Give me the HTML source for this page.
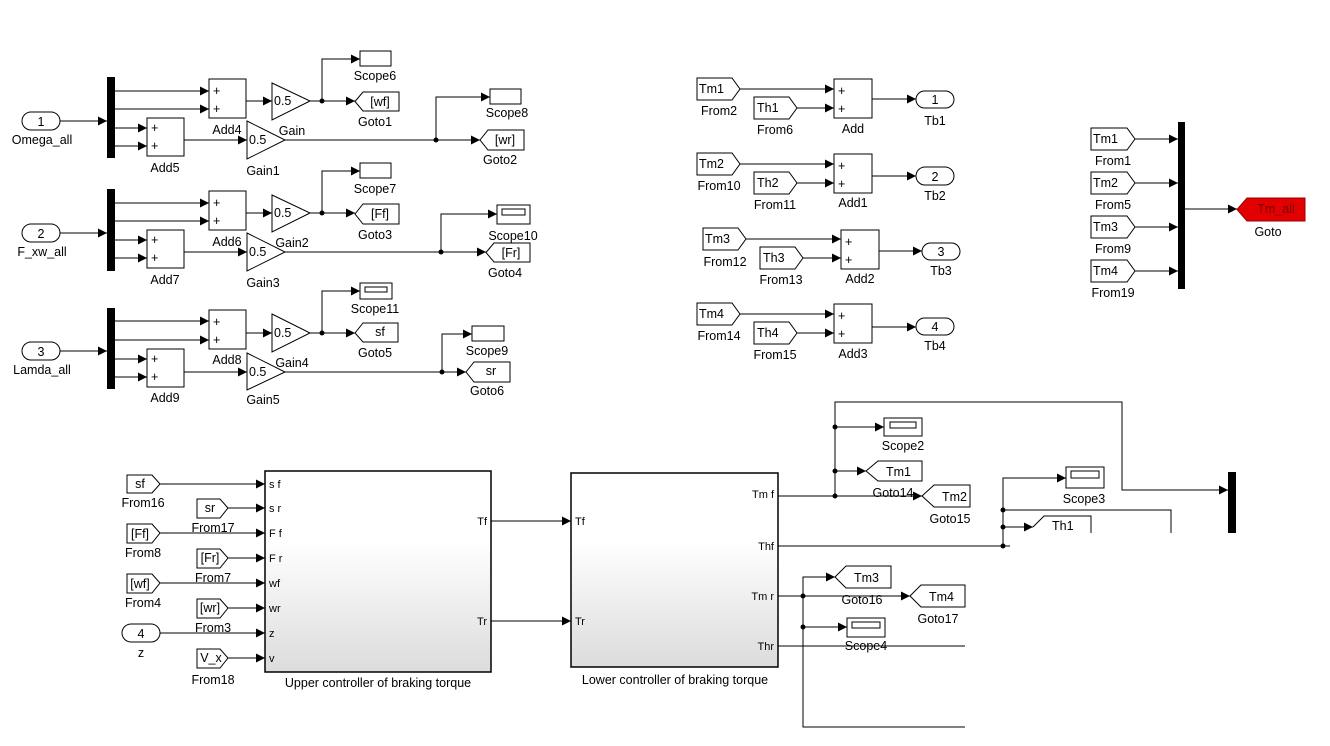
<!DOCTYPE html>
<html><head><meta charset="utf-8"><style>
html,body{margin:0;padding:0;background:#fff}
svg{display:block}
text{font-family:"Liberation Sans",Arial,sans-serif;font-size:12.5px;fill:#000}
.m{text-anchor:middle}
.r{text-anchor:end}
.b{fill:#fff;stroke:#000;stroke-width:1}
.l{fill:none;stroke:#000;stroke-width:1}
.s{font-size:11px}
</style></head><body>
<svg width="1330" height="746" viewBox="0 0 1330 746" xmlns="http://www.w3.org/2000/svg">
<defs>
<marker id="a" markerWidth="9" markerHeight="9" refX="9" refY="4.5" orient="auto" markerUnits="userSpaceOnUse"><path d="M0,0L9,4.5L0,9z" fill="#000"/></marker>
<linearGradient id="g" x1="0" y1="0" x2="0" y2="1"><stop offset="0" stop-color="#fff"/><stop offset="0.35" stop-color="#fff"/><stop offset="1" stop-color="#dcdcdc"/></linearGradient>
</defs>

<!-- ROW 1 -->
<rect class="b" x="22" y="112" width="38" height="18" rx="9"/><text class="m" x="41" y="126">1</text>
<text class="m" x="42" y="144">Omega_all</text>
<line class="l" x1="60" y1="121" x2="107" y2="121" marker-end="url(#a)"/>
<rect x="107" y="77" width="8" height="81" fill="#000"/>
<line class="l" x1="115" y1="91" x2="209" y2="91" marker-end="url(#a)"/>
<line class="l" x1="115" y1="109" x2="209" y2="109" marker-end="url(#a)"/>
<line class="l" x1="115" y1="128" x2="147" y2="128" marker-end="url(#a)"/>
<line class="l" x1="115" y1="146" x2="147" y2="146" marker-end="url(#a)"/>
<rect class="b" x="209" y="79" width="37" height="39"/><text x="213" y="95">+</text><text x="213" y="113">+</text>
<text class="m" x="227" y="134">Add4</text>
<rect class="b" x="147" y="118" width="37" height="38"/><text x="151" y="132">+</text><text x="151" y="150">+</text>
<text class="m" x="165" y="172">Add5</text>
<line class="l" x1="246" y1="101" x2="272" y2="101" marker-end="url(#a)"/>
<polygon class="b" points="272,83 310,101 272,120"/><text x="274" y="105">0.5</text>
<text class="m" x="292" y="135">Gain</text>
<line class="l" x1="310" y1="101" x2="355" y2="101" marker-end="url(#a)"/>
<circle cx="322" cy="101" r="2.5"/>
<polyline class="l" points="322,101 322,59 360,59" marker-end="url(#a)"/>
<rect class="b" x="360" y="51" width="31" height="15"/><text class="m" x="375" y="80">Scope6</text>
<polygon class="b" points="355,101.5 363,92 399,92 399,111 363,111"/><text class="m" x="380" y="106">[wf]</text>
<text class="m" x="375" y="126">Goto1</text>
<line class="l" x1="184" y1="140" x2="247" y2="140" marker-end="url(#a)"/>
<polygon class="b" points="247,121 285,140 247,159"/><text x="249" y="144">0.5</text>
<text class="m" x="263" y="175">Gain1</text>
<line class="l" x1="285" y1="140" x2="480" y2="140" marker-end="url(#a)"/>
<circle cx="436" cy="140" r="2.5"/>
<polyline class="l" points="436,140 436,97 490,97" marker-end="url(#a)"/>
<rect class="b" x="490" y="89" width="31" height="15"/><text class="m" x="507" y="117">Scope8</text>
<polygon class="b" points="480,140 488,130 524,130 524,150 488,150"/><text class="m" x="505" y="144">[wr]</text>
<text class="m" x="500" y="164">Goto2</text>

<!-- ROW 2 -->
<rect class="b" x="22" y="224" width="38" height="18" rx="9"/><text class="m" x="41" y="238">2</text>
<text class="m" x="42" y="256">F_xw_all</text>
<line class="l" x1="60" y1="233" x2="107" y2="233" marker-end="url(#a)"/>
<rect x="107" y="189" width="8" height="82" fill="#000"/>
<line class="l" x1="115" y1="203" x2="209" y2="203" marker-end="url(#a)"/>
<line class="l" x1="115" y1="221" x2="209" y2="221" marker-end="url(#a)"/>
<line class="l" x1="115" y1="240" x2="147" y2="240" marker-end="url(#a)"/>
<line class="l" x1="115" y1="258" x2="147" y2="258" marker-end="url(#a)"/>
<rect class="b" x="209" y="191" width="37" height="39"/><text x="213" y="207">+</text><text x="213" y="225">+</text>
<text class="m" x="227" y="246">Add6</text>
<rect class="b" x="147" y="230" width="37" height="38"/><text x="151" y="244">+</text><text x="151" y="262">+</text>
<text class="m" x="165" y="284">Add7</text>
<line class="l" x1="246" y1="213" x2="272" y2="213" marker-end="url(#a)"/>
<polygon class="b" points="272,195 310,213 272,232"/><text x="274" y="217">0.5</text>
<text class="m" x="292" y="247">Gain2</text>
<line class="l" x1="310" y1="213" x2="355" y2="213" marker-end="url(#a)"/>
<circle cx="322" cy="213" r="2.5"/>
<polyline class="l" points="322,213 322,171 360,171" marker-end="url(#a)"/>
<rect class="b" x="360" y="163" width="31" height="15"/><text class="m" x="375" y="193">Scope7</text>
<polygon class="b" points="355,214 363,204 399,204 399,224 363,224"/><text class="m" x="380" y="218">[Ff]</text>
<text class="m" x="375" y="239">Goto3</text>
<line class="l" x1="184" y1="252" x2="247" y2="252" marker-end="url(#a)"/>
<polygon class="b" points="247,233 285,252 247,271"/><text x="249" y="256">0.5</text>
<text class="m" x="263" y="287">Gain3</text>
<line class="l" x1="285" y1="252" x2="486" y2="252" marker-end="url(#a)"/>
<circle cx="441" cy="252" r="2.5"/>
<polyline class="l" points="441,252 441,214 497,214" marker-end="url(#a)"/>
<rect class="b" x="497" y="205" width="33" height="19"/><rect class="b" x="502" y="209" width="23" height="6"/>
<text class="m" x="513" y="240">Scope10</text>
<polygon class="b" points="486,252.5 494,243 530,243 530,262 494,262"/><text class="m" x="511" y="257">[Fr]</text>
<text class="m" x="505" y="277">Goto4</text>

<!-- ROW 3 -->
<rect class="b" x="22" y="342" width="38" height="18" rx="9"/><text class="m" x="41" y="356">3</text>
<text class="m" x="42" y="374">Lamda_all</text>
<line class="l" x1="60" y1="351" x2="107" y2="351" marker-end="url(#a)"/>
<rect x="107" y="308" width="8" height="81" fill="#000"/>
<line class="l" x1="115" y1="321" x2="209" y2="321" marker-end="url(#a)"/>
<line class="l" x1="115" y1="340" x2="209" y2="340" marker-end="url(#a)"/>
<line class="l" x1="115" y1="359" x2="147" y2="359" marker-end="url(#a)"/>
<line class="l" x1="115" y1="377" x2="147" y2="377" marker-end="url(#a)"/>
<rect class="b" x="209" y="310" width="37" height="39"/><text x="213" y="326">+</text><text x="213" y="344">+</text>
<text class="m" x="227" y="364">Add8</text>
<rect class="b" x="147" y="349" width="37" height="38"/><text x="151" y="363">+</text><text x="151" y="381">+</text>
<text class="m" x="165" y="402">Add9</text>
<line class="l" x1="246" y1="333" x2="272" y2="333" marker-end="url(#a)"/>
<polygon class="b" points="272,314 310,333 272,352"/><text x="274" y="337">0.5</text>
<text class="m" x="292" y="367">Gain4</text>
<line class="l" x1="310" y1="333" x2="355" y2="333" marker-end="url(#a)"/>
<circle cx="322" cy="333" r="2.5"/>
<polyline class="l" points="322,333 322,291 360,291" marker-end="url(#a)"/>
<rect class="b" x="360" y="283" width="32" height="16"/><rect class="b" x="365" y="287" width="22" height="5"/>
<text class="m" x="375" y="313">Scope11</text>
<polygon class="b" points="355,333 363,323 398,323 398,342 363,342"/><text class="m" x="380" y="336">sf</text>
<text class="m" x="375" y="357">Goto5</text>
<line class="l" x1="184" y1="372" x2="247" y2="372" marker-end="url(#a)"/>
<polygon class="b" points="247,353 285,372 247,390"/><text x="249" y="376">0.5</text>
<text class="m" x="263" y="404">Gain5</text>
<line class="l" x1="285" y1="372" x2="466" y2="372" marker-end="url(#a)"/>
<circle cx="442" cy="372" r="2.5"/>
<polyline class="l" points="442,372 442,334 472,334" marker-end="url(#a)"/>
<rect class="b" x="472" y="326" width="32" height="15"/><text class="m" x="487" y="355">Scope9</text>
<polygon class="b" points="466,372 474,362 510,362 510,382 474,382"/><text class="m" x="491" y="375">sr</text>
<text class="m" x="487" y="395">Goto6</text>

<!-- MIDDLE ADDS -->
<polygon class="b" points="697,78 732,78 740,89 732,100 697,100"/><text x="699" y="93">Tm1</text><text class="m" x="719" y="115">From2</text>
<polygon class="b" points="754,97 789,97 797,108 789,119 754,119"/><text x="757" y="112">Th1</text><text class="m" x="775" y="134">From6</text>
<line class="l" x1="740" y1="89" x2="834" y2="89" marker-end="url(#a)"/>
<line class="l" x1="797" y1="108" x2="834" y2="108" marker-end="url(#a)"/>
<rect class="b" x="834" y="79" width="38" height="39"/><text x="838" y="95">+</text><text x="838" y="113">+</text><text class="m" x="853" y="133">Add</text>
<line class="l" x1="872" y1="99" x2="916" y2="99" marker-end="url(#a)"/>
<rect class="b" x="916" y="91" width="38" height="17" rx="8.5"/><text class="m" x="935" y="104">1</text><text class="m" x="935" y="125">Tb1</text>

<polygon class="b" points="697,153 732,153 740,164 732,175 697,175"/><text x="699" y="168">Tm2</text><text class="m" x="719" y="190">From10</text>
<polygon class="b" points="754,172 789,172 797,183 789,194 754,194"/><text x="757" y="187">Th2</text><text class="m" x="775" y="209">From11</text>
<line class="l" x1="740" y1="164" x2="834" y2="164" marker-end="url(#a)"/>
<line class="l" x1="797" y1="183" x2="834" y2="183" marker-end="url(#a)"/>
<rect class="b" x="834" y="154" width="38" height="39"/><text x="838" y="170">+</text><text x="838" y="188">+</text><text class="m" x="853" y="207">Add1</text>
<line class="l" x1="872" y1="176" x2="916" y2="176" marker-end="url(#a)"/>
<rect class="b" x="916" y="167" width="38" height="18" rx="9"/><text class="m" x="935" y="181">2</text><text class="m" x="935" y="200">Tb2</text>

<polygon class="b" points="703,228 738,228 746,239 738,250 703,250"/><text x="705" y="243">Tm3</text><text class="m" x="725" y="266">From12</text>
<polygon class="b" points="760,247 795,247 803,258 795,269 760,269"/><text x="763" y="262">Th3</text><text class="m" x="781" y="284">From13</text>
<line class="l" x1="746" y1="239" x2="841" y2="239" marker-end="url(#a)"/>
<line class="l" x1="803" y1="258" x2="841" y2="258" marker-end="url(#a)"/>
<rect class="b" x="841" y="230" width="38" height="39"/><text x="845" y="246">+</text><text x="845" y="264">+</text><text class="m" x="860" y="283">Add2</text>
<line class="l" x1="879" y1="251" x2="922" y2="251" marker-end="url(#a)"/>
<rect class="b" x="922" y="243" width="38" height="17" rx="8.5"/><text class="m" x="941" y="256">3</text><text class="m" x="941" y="275">Tb3</text>

<polygon class="b" points="697,303 732,303 740,314 732,325 697,325"/><text x="699" y="318">Tm4</text><text class="m" x="719" y="340">From14</text>
<polygon class="b" points="754,322 789,322 797,333 789,344 754,344"/><text x="757" y="337">Th4</text><text class="m" x="775" y="359">From15</text>
<line class="l" x1="740" y1="314" x2="834" y2="314" marker-end="url(#a)"/>
<line class="l" x1="797" y1="333" x2="834" y2="333" marker-end="url(#a)"/>
<rect class="b" x="834" y="304" width="38" height="39"/><text x="838" y="320">+</text><text x="838" y="338">+</text><text class="m" x="853" y="358">Add3</text>
<line class="l" x1="872" y1="327" x2="916" y2="327" marker-end="url(#a)"/>
<rect class="b" x="916" y="318" width="38" height="17" rx="8.5"/><text class="m" x="935" y="331">4</text><text class="m" x="935" y="350">Tb4</text>

<!-- RIGHT MUX -->
<polygon class="b" points="1091,128 1127,128 1135,139 1127,150 1091,150"/><text x="1093" y="143">Tm1</text><text class="m" x="1113" y="165">From1</text>
<polygon class="b" points="1091,172 1127,172 1135,183 1127,194 1091,194"/><text x="1093" y="187">Tm2</text><text class="m" x="1113" y="209">From5</text>
<polygon class="b" points="1091,216 1127,216 1135,227 1127,238 1091,238"/><text x="1093" y="231">Tm3</text><text class="m" x="1113" y="253">From9</text>
<polygon class="b" points="1091,260 1127,260 1135,271 1127,282 1091,282"/><text x="1093" y="275">Tm4</text><text class="m" x="1113" y="297">From19</text>
<line class="l" x1="1135" y1="139" x2="1178" y2="139" marker-end="url(#a)"/>
<line class="l" x1="1135" y1="183" x2="1178" y2="183" marker-end="url(#a)"/>
<line class="l" x1="1135" y1="227" x2="1178" y2="227" marker-end="url(#a)"/>
<line class="l" x1="1135" y1="271" x2="1178" y2="271" marker-end="url(#a)"/>
<rect x="1178" y="122" width="7" height="167" fill="#000"/>
<line class="l" x1="1185" y1="209" x2="1237" y2="209" marker-end="url(#a)"/>
<polygon points="1237,209.5 1247,198 1305,198 1305,221 1247,221" fill="#e30000" stroke="#900"/>
<text class="m" x="1276" y="213" style="fill:#7a0000">Tm_all</text>
<text class="m" x="1268" y="236">Goto</text>

<!-- UPPER CONTROLLER -->
<rect x="265" y="471" width="226" height="201" fill="url(#g)" stroke="#000" stroke-width="1.5"/>
<text class="m" x="378" y="687">Upper controller of braking torque</text>
<text x="269" y="488" class="s">s f</text><text x="269" y="512" class="s">s r</text><text x="269" y="537" class="s">F f</text><text x="269" y="562" class="s">F r</text>
<text x="269" y="587" class="s">wf</text><text x="269" y="612" class="s">wr</text><text x="269" y="637" class="s">z</text><text x="269" y="662" class="s">v</text>
<text x="487" y="525" class="s r">Tf</text><text x="487" y="625" class="s r">Tr</text>
<polygon class="b" points="127,475 152,475 160,484 152,493 127,493"/><text class="m" x="140" y="488">sf</text><text class="m" x="143" y="507">From16</text>
<polygon class="b" points="197,499 220,499 228,508 220,518 197,518"/><text class="m" x="210" y="512">sr</text><text class="m" x="213" y="532">From17</text>
<polygon class="b" points="127,524 152,524 160,533 152,543 127,543"/><text class="m" x="140" y="538">[Ff]</text><text class="m" x="143" y="557">From8</text>
<polygon class="b" points="197,549 220,549 228,558 220,568 197,568"/><text class="m" x="210" y="562">[Fr]</text><text class="m" x="213" y="582">From7</text>
<polygon class="b" points="127,574 152,574 160,583 152,593 127,593"/><text class="m" x="140" y="588">[wf]</text><text class="m" x="143" y="607">From4</text>
<polygon class="b" points="197,599 220,599 228,608 220,618 197,618"/><text class="m" x="210" y="612">[wr]</text><text class="m" x="213" y="632">From3</text>
<rect class="b" x="122" y="624" width="38" height="18" rx="9"/><text class="m" x="141" y="638">4</text><text class="m" x="141" y="657">z</text>
<polygon class="b" points="197,649 220,649 228,658 220,668 197,668"/><text class="m" x="211" y="662">V_x</text><text class="m" x="213" y="684">From18</text>
<line class="l" x1="160" y1="484" x2="265" y2="484" marker-end="url(#a)"/>
<line class="l" x1="228" y1="508" x2="265" y2="508" marker-end="url(#a)"/>
<line class="l" x1="160" y1="533" x2="265" y2="533" marker-end="url(#a)"/>
<line class="l" x1="228" y1="558" x2="265" y2="558" marker-end="url(#a)"/>
<line class="l" x1="160" y1="583" x2="265" y2="583" marker-end="url(#a)"/>
<line class="l" x1="228" y1="608" x2="265" y2="608" marker-end="url(#a)"/>
<line class="l" x1="160" y1="633" x2="265" y2="633" marker-end="url(#a)"/>
<line class="l" x1="228" y1="658" x2="265" y2="658" marker-end="url(#a)"/>

<line class="l" x1="491" y1="521" x2="571" y2="521" marker-end="url(#a)"/>
<line class="l" x1="491" y1="621" x2="571" y2="621" marker-end="url(#a)"/>

<!-- LOWER CONTROLLER -->
<rect x="571" y="473" width="207" height="194" fill="url(#g)" stroke="#000" stroke-width="1.5"/>
<text class="m" x="675" y="684">Lower controller of braking torque</text>
<text x="575" y="525" class="s">Tf</text><text x="575" y="625" class="s">Tr</text>
<text x="774" y="498" class="s r">Tm f</text><text x="774" y="550" class="s r">Thf</text>
<text x="774" y="600" class="s r">Tm r</text><text x="774" y="650" class="s r">Thr</text>

<!-- RIGHT BOTTOM -->
<line class="l" x1="778" y1="496" x2="922" y2="496" marker-end="url(#a)"/>
<circle cx="835" cy="496" r="2.5"/>
<polyline class="l" points="835,496 835,402 1122,402 1122,490 1228,490" marker-end="url(#a)"/>
<circle cx="835" cy="427" r="2.5"/><line class="l" x1="835" y1="427" x2="884" y2="427" marker-end="url(#a)"/>
<rect class="b" x="884" y="418" width="38" height="18"/><rect class="b" x="890" y="422" width="26" height="6"/>
<text class="m" x="903" y="450">Scope2</text>
<circle cx="835" cy="471" r="2.5"/><line class="l" x1="835" y1="471" x2="866" y2="471" marker-end="url(#a)"/>
<polygon class="b" points="866,471 878,461 922,461 922,481 878,481"/><text x="886" y="476">Tm1</text>
<text class="m" x="893" y="497">Goto14</text>
<polygon class="b" points="922,496 934,485 970,485 970,507 934,507"/><text x="942" y="501">Tm2</text>
<text class="m" x="950" y="523">Goto15</text>

<line class="l" x1="778" y1="546" x2="1010" y2="546"/>
<circle cx="1003" cy="546" r="2.5"/>
<polyline class="l" points="1003,546 1003,478 1066,478" marker-end="url(#a)"/>
<rect class="b" x="1066" y="467" width="38" height="21"/><rect class="b" x="1071" y="471" width="28" height="7"/>
<text class="m" x="1084" y="503">Scope3</text>
<circle cx="1003" cy="510" r="2.5"/><polyline class="l" points="1003,510 1171,510 1171,533"/>
<circle cx="1003" cy="527" r="2.5"/><line class="l" x1="1003" y1="527" x2="1033" y2="527" marker-end="url(#a)"/>
<polyline class="b" points="1033,527 1044,516 1091,516 1091,533"/><text x="1052" y="530">Th1</text>
<rect x="1228" y="472" width="8" height="61" fill="#000"/>
<rect x="1010" y="533" width="320" height="213" fill="#fff"/>

<line class="l" x1="778" y1="596" x2="910" y2="596" marker-end="url(#a)"/>
<circle cx="803" cy="596" r="2.5"/>
<polyline class="l" points="835,577 803,577 803,727 965,727"/>
<line class="l" x1="803" y1="577" x2="835" y2="577" marker-end="url(#a)"/>
<polygon class="b" points="835,577 846,566 891,566 891,588 846,588"/><text x="854" y="582">Tm3</text>
<text class="m" x="862" y="604">Goto16</text>
<polygon class="b" points="910,596 921,585 965,585 965,607 921,607"/><text x="929" y="601">Tm4</text>
<text class="m" x="938" y="623">Goto17</text>
<circle cx="803" cy="627" r="2.5"/><line class="l" x1="803" y1="627" x2="847" y2="627" marker-end="url(#a)"/>
<rect class="b" x="847" y="618" width="38" height="19"/><rect class="b" x="852" y="622" width="28" height="6"/>
<text class="m" x="866" y="650">Scope4</text>
<line class="l" x1="778" y1="646" x2="965" y2="646"/>
</svg>
</body></html>
